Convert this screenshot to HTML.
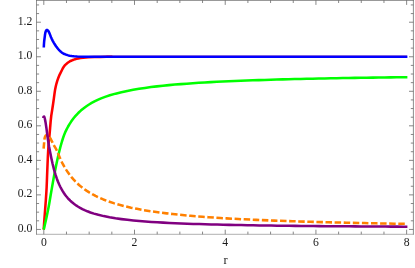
<!DOCTYPE html>
<html><head><meta charset="utf-8"><title>plot</title>
<style>html,body{margin:0;padding:0;background:#fff;width:415px;height:268px;overflow:hidden;font-family:"Liberation Serif",serif;}</style>
</head><body>
<svg width="415" height="268" viewBox="0 0 415 268" style="position:absolute;left:0;top:0">
<defs><filter id="tf" x="0" y="0" width="415" height="268" filterUnits="userSpaceOnUse"><feOffset dx="0" dy="0"/></filter></defs>
<rect width="415" height="268" fill="#fff"/>
<path d="M43.80 234.3 v-4.6 M43.80 0.3 v4.6 M66.48 234.3 v-2.7 M66.48 0.3 v2.7 M89.16 234.3 v-2.7 M89.16 0.3 v2.7 M111.83 234.3 v-2.7 M111.83 0.3 v2.7 M134.51 234.3 v-4.6 M134.51 0.3 v4.6 M157.19 234.3 v-2.7 M157.19 0.3 v2.7 M179.87 234.3 v-2.7 M179.87 0.3 v2.7 M202.54 234.3 v-2.7 M202.54 0.3 v2.7 M225.22 234.3 v-4.6 M225.22 0.3 v4.6 M247.90 234.3 v-2.7 M247.90 0.3 v2.7 M270.57 234.3 v-2.7 M270.57 0.3 v2.7 M293.25 234.3 v-2.7 M293.25 0.3 v2.7 M315.93 234.3 v-4.6 M315.93 0.3 v4.6 M338.61 234.3 v-2.7 M338.61 0.3 v2.7 M361.28 234.3 v-2.7 M361.28 0.3 v2.7 M383.96 234.3 v-2.7 M383.96 0.3 v2.7 M406.64 234.3 v-4.6 M406.64 0.3 v4.6 M36.5 229.43 h4.4 M413.4 229.43 h-4.4 M36.5 220.80 h2.6 M413.4 220.80 h-2.6 M36.5 212.16 h2.6 M413.4 212.16 h-2.6 M36.5 203.53 h2.6 M413.4 203.53 h-2.6 M36.5 194.89 h4.4 M413.4 194.89 h-4.4 M36.5 186.26 h2.6 M413.4 186.26 h-2.6 M36.5 177.63 h2.6 M413.4 177.63 h-2.6 M36.5 168.99 h2.6 M413.4 168.99 h-2.6 M36.5 160.36 h4.4 M413.4 160.36 h-4.4 M36.5 151.72 h2.6 M413.4 151.72 h-2.6 M36.5 143.09 h2.6 M413.4 143.09 h-2.6 M36.5 134.46 h2.6 M413.4 134.46 h-2.6 M36.5 125.82 h4.4 M413.4 125.82 h-4.4 M36.5 117.19 h2.6 M413.4 117.19 h-2.6 M36.5 108.55 h2.6 M413.4 108.55 h-2.6 M36.5 99.92 h2.6 M413.4 99.92 h-2.6 M36.5 91.29 h4.4 M413.4 91.29 h-4.4 M36.5 82.65 h2.6 M413.4 82.65 h-2.6 M36.5 74.02 h2.6 M413.4 74.02 h-2.6 M36.5 65.38 h2.6 M413.4 65.38 h-2.6 M36.5 56.75 h4.4 M413.4 56.75 h-4.4 M36.5 48.12 h2.6 M413.4 48.12 h-2.6 M36.5 39.48 h2.6 M413.4 39.48 h-2.6 M36.5 30.85 h2.6 M413.4 30.85 h-2.6 M36.5 22.21 h4.4 M413.4 22.21 h-4.4 M36.5 13.58 h2.6 M413.4 13.58 h-2.6 M36.5 4.95 h2.6 M413.4 4.95 h-2.6" stroke="#555" stroke-width="0.7" fill="none"/>
<path d="M36.5 0V234.55" stroke="#606060" stroke-width="0.68" fill="none"/>
<path d="M413.4 0V234.55" stroke="#606060" stroke-width="0.72" fill="none"/>
<path d="M36.16 0.3H413.76" stroke="#606060" stroke-width="0.8" fill="none"/>
<path d="M36.16 234.3H413.76" stroke="#606060" stroke-width="0.5" fill="none"/>
<path d="M106.40 56.83 L112.40 56.78 L118.40 56.74 L124.40 56.71 L130.40 56.70 L136.40 56.70 L142.40 56.70 L148.40 56.70 L154.40 56.70 L160.40 56.70 L166.40 56.70 L172.40 56.70 L178.40 56.70 L184.40 56.70 L190.40 56.70 L196.40 56.70 L202.40 56.70 L208.40 56.70 L214.40 56.70 L220.40 56.70 L226.40 56.70 L232.40 56.70 L238.40 56.70 L244.40 56.70 L250.40 56.70 L256.40 56.70 L262.40 56.70 L268.40 56.70 L274.40 56.70 L280.40 56.70 L286.40 56.70 L292.40 56.70 L298.40 56.70 L304.40 56.70 L310.40 56.70 L316.40 56.70 L322.40 56.70 L328.40 56.70 L334.40 56.70 L340.40 56.70 L346.40 56.70 L352.40 56.70 L358.40 56.70 L364.40 56.70 L370.40 56.70 L376.40 56.70 L382.40 56.70 L388.40 56.70 L394.40 56.70 L400.40 56.70 L406.35 56.70 L407.00 56.70" fill="none" stroke="#ff0000" stroke-width="2" stroke-linejoin="round"/>
<path d="M43.70 229.60 L44.09 223.61 L44.52 217.63 L44.98 211.65 L45.42 205.66 L45.87 199.68 L46.28 193.69 L46.61 187.70 L46.86 181.71 L47.08 175.71 L47.31 169.72 L47.56 163.72 L47.82 157.73 L48.12 151.73 L48.48 145.74 L49.00 139.77 L49.61 133.80 L50.12 127.82 L50.61 121.83 L51.24 115.87 L52.17 109.95 L53.08 104.02 L53.91 98.07 L54.71 92.13 L55.18 89.17 L55.74 86.47 L56.47 83.56 L57.25 80.93 L58.05 78.56 L58.77 76.69 L59.56 74.86 L62.22 69.48 L62.91 68.15 L63.28 67.51 L63.68 66.89 L64.11 66.29 L64.57 65.71 L65.07 65.15 L65.59 64.61 L66.14 64.10 L66.91 63.44 L67.70 62.83 L68.52 62.25 L69.36 61.71 L70.23 61.21 L71.11 60.75 L72.02 60.33 L72.94 59.95 L73.88 59.62 L75.07 59.25 L76.52 58.86 L78.23 58.49 L80.45 58.11 L83.18 57.76 L88.41 57.32 L94.40 57.03 L100.40 56.90 L106.40 56.83 L112.40 56.78" fill="none" stroke="#ff0000" stroke-width="2.55" stroke-linejoin="round"/>
<path d="M43.70 229.60 L45.08 223.76 L46.39 217.90 L47.62 212.03 L48.77 206.14 L49.81 200.23 L50.80 194.32 L51.83 188.40 L52.87 182.49 L53.94 176.59 L55.06 170.69 L56.26 164.82 L57.52 158.94 L58.86 153.09 L60.32 147.27 L61.94 141.50 L63.40 136.97 L64.53 133.93 L65.40 131.86 L66.48 129.60 L68.00 126.73 L69.52 124.14 L71.00 121.83 L72.44 119.79 L73.96 117.80 L75.56 115.89 L77.24 114.04 L79.01 112.27 L80.84 110.57 L82.75 108.96 L84.73 107.43 L86.77 105.99 L89.07 104.49 L91.65 102.96 L94.52 101.43 L97.67 99.91 L101.11 98.43 L105.08 96.91 L109.82 95.32 L115.58 93.64 L121.40 92.19 L127.26 90.91 L133.16 89.79 L139.07 88.79 L145.01 87.90 L150.96 87.10 L156.91 86.39 L162.88 85.74 L168.85 85.14 L174.82 84.60 L180.80 84.11 L186.79 83.65 L192.77 83.23 L198.76 82.84 L204.75 82.48 L210.74 82.14 L216.73 81.83 L222.72 81.54 L228.72 81.26 L234.71 81.00 L240.71 80.76 L246.70 80.53 L252.70 80.31 L258.69 80.11 L264.69 79.91 L270.69 79.73 L276.68 79.56 L282.68 79.39 L288.68 79.23 L294.68 79.08 L300.68 78.94 L306.68 78.80 L312.67 78.67 L318.67 78.54 L324.67 78.42 L330.67 78.30 L336.67 78.19 L342.67 78.09 L348.67 77.98 L354.67 77.89 L360.67 77.79 L366.67 77.70 L372.66 77.61 L378.66 77.53 L384.66 77.44 L390.66 77.36 L396.66 77.29 L402.66 77.21 L407.40 77.16" fill="none" stroke="#00ff00" stroke-width="2.55" stroke-linejoin="round"/>
<path d="M43.80 47.50 L43.93 44.50 L44.17 41.26 L44.93 35.30 L45.20 33.58 L45.40 32.59 L45.59 31.86 L45.74 31.38 L45.93 30.92 L46.16 30.50 L46.44 30.16 L46.77 29.98 L47.13 29.98 L47.49 30.16 L47.84 30.47 L48.16 30.84 L48.45 31.25 L48.71 31.68 L49.05 32.35 L49.47 33.25 L50.03 34.65 L51.02 37.22 L51.63 38.59 L52.75 40.83 L53.72 42.59 L54.75 44.29 L56.01 46.17 L57.05 47.60 L57.83 48.58 L58.65 49.51 L59.68 50.59 L60.60 51.47 L61.37 52.14 L61.97 52.61 L62.37 52.90 L62.79 53.17 L63.20 53.41 L63.85 53.75 L64.51 54.05 L65.43 54.42 L66.39 54.77 L67.60 55.14 L68.59 55.40 L69.81 55.66 L71.78 55.97 L74.02 56.24 L77.27 56.47 L82.76 56.69 L88.76 56.70 L94.76 56.70 L100.76 56.70 L106.76 56.70 L112.76 56.70 L118.76 56.70 L124.76 56.70 L130.76 56.70 L136.76 56.70 L142.76 56.70 L148.76 56.70 L154.76 56.70 L160.76 56.70 L166.76 56.70 L172.76 56.70 L178.76 56.70 L184.76 56.70 L190.76 56.70 L196.76 56.70 L202.76 56.70 L208.76 56.70 L214.76 56.70 L220.76 56.70 L226.76 56.70 L232.76 56.70 L238.76 56.70 L244.76 56.70 L250.76 56.70 L256.76 56.70 L262.76 56.70 L268.76 56.70 L274.76 56.70 L280.76 56.70 L286.76 56.70 L292.76 56.70 L298.76 56.70 L304.76 56.70 L310.76 56.70 L316.76 56.70 L322.76 56.70 L328.76 56.70 L334.76 56.70 L340.76 56.70 L346.76 56.70 L352.76 56.70 L358.76 56.70 L364.76 56.70 L370.76 56.70 L376.76 56.70 L382.76 56.70 L388.76 56.70 L394.76 56.70 L400.76 56.70 L406.74 56.70 L407.40 56.70" fill="none" stroke="#0000ff" stroke-width="2.55" stroke-linejoin="round"/>
<path d="M407.40 223.86 L406.27 223.84 L400.29 223.75 L394.29 223.65 L388.29 223.54 L382.29 223.44 L376.29 223.33 L370.29 223.21 L364.29 223.09 L358.30 222.97 L352.30 222.84 L346.30 222.71 L340.30 222.57 L334.30 222.43 L328.30 222.28 L322.31 222.12 L316.31 221.96 L310.31 221.79 L304.31 221.62 L298.32 221.44 L292.32 221.24 L286.32 221.04 L280.33 220.83 L274.33 220.61 L268.33 220.38 L262.34 220.14 L256.34 219.88 L250.35 219.61 L244.36 219.33 L238.36 219.02 L232.37 218.71 L226.38 218.37 L220.39 218.01 L214.41 217.63 L208.42 217.22 L202.44 216.78 L196.45 216.32 L190.47 215.81 L184.50 215.28 L178.53 214.69 L172.56 214.06 L166.60 213.38 L160.64 212.64 L154.70 211.83 L148.77 210.93 L142.85 209.95 L136.95 208.87 L131.07 207.67 L125.22 206.33 L119.41 204.82 L113.65 203.13 L107.97 201.22 L103.30 199.44 L99.16 197.66 L95.55 195.94 L92.24 194.18 L89.22 192.41 L86.48 190.66 L84.03 188.93 L81.64 187.11 L79.34 185.19 L77.30 183.34 L75.34 181.41 L73.46 179.41 L71.50 177.13 L69.64 174.78 L67.88 172.35 L66.09 169.64 L64.28 166.65 L62.48 163.36 L60.71 159.77 L58.99 155.88 L57.79 152.86 L57.15 151.23 L56.74 150.33 L56.17 149.22 L54.67 146.62 L53.55 144.66 L52.56 142.64 L50.98 139.50 L50.24 138.20 L49.71 137.35 L49.28 136.75 L48.97 136.35 L48.64 135.98 L48.29 135.63 L47.91 135.32 L47.51 135.08 L47.08 134.96 L46.65 134.98 L46.23 135.15 L45.87 135.42 L45.56 135.78 L45.31 136.21 L45.10 136.66 L44.93 137.13 L44.79 137.61 L44.62 138.35 L44.49 139.09 L44.36 140.08 L44.12 142.82 L43.60 148.80" fill="none" stroke="#ff8000" stroke-width="2.55" stroke-dasharray="6.5 2.6" stroke-dashoffset="6.5" stroke-linejoin="round"/>
<path d="M43.20 118.00 L43.28 117.43 L43.45 117.00 L43.67 116.70 L44.00 116.53 L44.21 116.73 L44.38 117.14 L44.60 117.80 L44.79 118.49 L45.07 119.70 L45.57 122.41 L46.46 128.36 L47.24 134.31 L48.04 140.25 L48.98 146.18 L50.11 152.07 L51.30 157.95 L52.59 163.81 L54.03 169.64 L55.41 174.44 L56.76 178.47 L58.01 181.74 L59.20 184.50 L60.38 186.98 L61.55 189.19 L62.68 191.13 L63.89 193.03 L65.04 194.67 L66.25 196.26 L67.53 197.79 L68.88 199.27 L70.29 200.69 L71.76 202.04 L73.29 203.33 L74.88 204.54 L76.52 205.69 L78.20 206.77 L80.15 207.90 L82.36 209.07 L84.62 210.14 L87.38 211.31 L90.42 212.45 L93.98 213.62 L98.31 214.85 L103.66 216.12 L109.55 217.29 L115.47 218.28 L121.41 219.12 L127.36 219.84 L133.33 220.46 L139.31 221.01 L145.29 221.49 L151.27 221.91 L157.26 222.29 L163.25 222.63 L169.24 222.94 L175.24 223.21 L181.23 223.47 L187.23 223.69 L193.22 223.90 L199.22 224.10 L205.22 224.28 L211.21 224.44 L217.21 224.59 L223.21 224.73 L229.21 224.86 L235.21 224.99 L241.21 225.10 L247.21 225.21 L253.21 225.31 L259.20 225.40 L265.20 225.49 L271.20 225.58 L277.20 225.66 L283.20 225.73 L289.20 225.80 L295.20 225.87 L301.20 225.93 L307.20 225.99 L313.20 226.05 L319.20 226.11 L325.20 226.16 L331.20 226.21 L337.20 226.26 L343.20 226.30 L349.20 226.35 L355.20 226.39 L361.20 226.43 L367.20 226.47 L373.20 226.51 L379.20 226.54 L385.20 226.58 L391.20 226.61 L397.20 226.64 L403.20 226.67 L407.40 226.69" fill="none" stroke="#800080" stroke-width="2.55" stroke-linejoin="round"/>
<g font-family="Liberation Serif, serif" font-size="11.7" fill="#1a1a1a" filter="url(#tf)">
<text x="32.3" y="231.98" text-anchor="end">0.0</text>
<text x="32.3" y="197.44" text-anchor="end">0.2</text>
<text x="32.3" y="162.91" text-anchor="end">0.4</text>
<text x="32.3" y="128.37" text-anchor="end">0.6</text>
<text x="32.3" y="93.84" text-anchor="end">0.8</text>
<text x="32.3" y="59.30" text-anchor="end">1.0</text>
<text x="32.3" y="24.76" text-anchor="end">1.2</text>
<text x="43.80" y="245.75" text-anchor="middle">0</text>
<text x="134.51" y="245.75" text-anchor="middle">2</text>
<text x="225.22" y="245.75" text-anchor="middle">4</text>
<text x="315.93" y="245.75" text-anchor="middle">6</text>
<text x="406.64" y="245.75" text-anchor="middle">8</text>
<text x="225.6" y="263.8" text-anchor="middle" font-size="12.5">r</text>
</g>
</svg>
</body></html>
